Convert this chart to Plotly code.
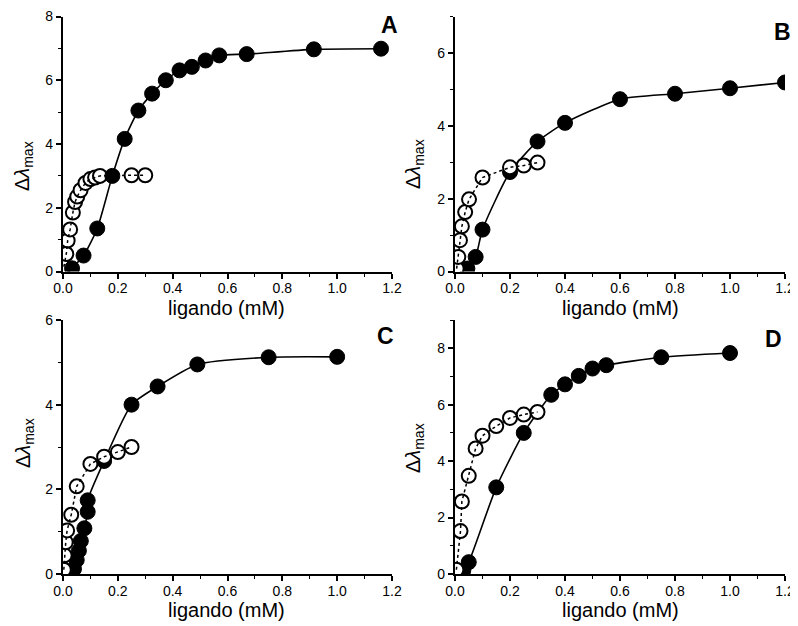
import plotly.graph_objects as go
from plotly.subplots import make_subplots

# panel A
a_fill_x = [0.033, 0.075, 0.125, 0.18, 0.225, 0.275, 0.325, 0.375, 0.425, 0.47, 0.52, 0.57, 0.67, 0.915, 1.16]
a_fill_y = [0.1, 0.5, 1.35, 3.0, 4.16, 5.05, 5.58, 6.0, 6.31, 6.42, 6.62, 6.78, 6.82, 6.97, 6.99]
a_open_x = [0.003, 0.012, 0.017, 0.026, 0.036, 0.044, 0.052, 0.064, 0.082, 0.1, 0.117, 0.135, 0.25, 0.3]
a_open_y = [0.15, 0.55, 0.97, 1.32, 1.85, 2.18, 2.35, 2.55, 2.78, 2.9, 2.95, 3.0, 3.02, 3.02]

# panel B
b_fill_x = [0.045, 0.075, 0.1, 0.2, 0.3, 0.4, 0.6, 0.8, 1.0, 1.2]
b_fill_y = [0.08, 0.4, 1.15, 2.73, 3.57, 4.08, 4.73, 4.88, 5.03, 5.19]
b_open_x = [0.006, 0.012, 0.018, 0.025, 0.037, 0.051, 0.1, 0.2, 0.25, 0.3]
b_open_y = [0.08, 0.4, 0.86, 1.24, 1.63, 1.98, 2.58, 2.86, 2.91, 2.99]

# panel C
c_fill_x = [0.04, 0.05, 0.058, 0.065, 0.078, 0.09, 0.09, 0.15, 0.25, 0.345, 0.49, 0.75, 1.0]
c_fill_y = [0.12, 0.33, 0.55, 0.78, 1.08, 1.47, 1.74, 2.67, 4.0, 4.43, 4.95, 5.12, 5.13]
c_open_x = [0.003, 0.006, 0.01, 0.015, 0.03, 0.05, 0.1, 0.15, 0.2, 0.25]
c_open_y = [0.1, 0.44, 0.75, 1.03, 1.4, 2.07, 2.6, 2.77, 2.88, 3.0]

# panel D
d_fill_x = [0.03, 0.05, 0.15, 0.25, 0.35, 0.4, 0.45, 0.5, 0.55, 0.75, 1.0]
d_fill_y = [0.12, 0.42, 3.07, 5.0, 6.35, 6.72, 7.02, 7.28, 7.4, 7.68, 7.83]
d_open_x = [0.005, 0.02, 0.025, 0.05, 0.075, 0.1, 0.15, 0.2, 0.25, 0.3]
d_open_y = [0.15, 1.52, 2.57, 3.48, 4.45, 4.9, 5.24, 5.53, 5.65, 5.74]

x_title = "ligando (mM)"
y_title = "Δ<i>λ</i><sub>max</sub>"

panels = [
    ("A", 1, 1, a_fill_x, a_fill_y, a_open_x, a_open_y, 8, True),
    ("B", 1, 2, b_fill_x, b_fill_y, b_open_x, b_open_y, 7, False),
    ("C", 2, 1, c_fill_x, c_fill_y, c_open_x, c_open_y, 6, False),
    ("D", 2, 2, d_fill_x, d_fill_y, d_open_x, d_open_y, 9, False),
]

# page body adds an 8px margin, so the figure is drawn 8px in and 16px smaller
W, H, OFF = 790, 618, 8
def px2x(p):
    return (p - OFF) / W
def px2y(p):
    return 1 - (p - OFF) / H

fig = make_subplots(rows=2, cols=2)

def add_fill(r, c, x, y):
    fig.add_trace(go.Scatter(x=x, y=y, mode="lines+markers",
                             line=dict(color="black", width=1.6, shape="spline", smoothing=0.6),
                             marker=dict(size=15, color="black", line=dict(color="black", width=1)),
                             showlegend=False), row=r, col=c)

def add_open(r, c, x, y):
    fig.add_trace(go.Scatter(x=x, y=y, mode="markers",
                             marker=dict(size=14, color="white", line=dict(color="black", width=2)),
                             showlegend=False), row=r, col=c)
    fig.add_trace(go.Scatter(x=x, y=y, mode="lines",
                             line=dict(color="black", width=1.5, dash="dot"),
                             showlegend=False), row=r, col=c)

for name, r, c, fx, fy, ox, oy, ymax, fill_on_top in panels:
    if fill_on_top:
        add_open(r, c, ox, oy)
        add_fill(r, c, fx, fy)
    else:
        add_fill(r, c, fx, fy)
        add_open(r, c, ox, oy)

xdom = [[px2x(63), px2x(392)], [px2x(455), px2x(785)]]
ydom = [[px2y(271.5), px2y(16.5)], [px2y(574), px2y(320)]]
label_pos = {"A": (389, 25), "B": (782, 32), "C": (385, 336), "D": (773, 339)}
xtitle_y = {1: 308, 2: 610}
xtitle_x = {1: 227, 2: 620}
ytitle_y = {"A": 166, "B": 164, "C": 443, "D": 448}
ytitle_x = {1: 24, 2: 414}

FONT = "Liberation Sans, Arial"
axis_font = dict(family=FONT, size=14, color="black")

def note(x, y, text, size, angle=0):
    fig.add_annotation(x=px2x(x), y=px2y(y), xref="paper", yref="paper",
                       xanchor="center", yanchor="middle", text=text,
                       showarrow=False, textangle=angle,
                       font=dict(family=FONT, size=size, color="black"))

for name, r, c, fx, fy, ox, oy, ymax, _ in panels:
    fig.update_xaxes(range=[0, 1.2], domain=xdom[c - 1], dtick=0.2, tickformat=".1f",
                     automargin=False, ticklabelstandoff=-2,
                     showline=True, linecolor="black", linewidth=2.2, mirror=False,
                     ticks="outside", ticklen=5, tickwidth=1.5, tickcolor="black",
                     minor=dict(dtick=0.1, ticks="outside", ticklen=3, tickwidth=1.2, tickcolor="black"),
                     showgrid=False, zeroline=False, tickfont=axis_font,
                     row=r, col=c)
    fig.update_yaxes(range=[0, ymax], domain=ydom[r - 1], dtick=2,
                     automargin=False,
                     showline=True, linecolor="black", linewidth=2.2,
                     ticks="outside", ticklen=5, tickwidth=1.5, tickcolor="black",
                     minor=dict(dtick=1, ticks="outside", ticklen=3, tickwidth=1.2, tickcolor="black"),
                     showgrid=False, zeroline=False, tickfont=axis_font,
                     row=r, col=c)
    lx, ly = label_pos[name]
    note(lx, ly, "<b>%s</b>" % name, 23)
    note(xtitle_x[c], xtitle_y[r], x_title, 20)
    note(ytitle_x[c], ytitle_y[name], y_title, 20, angle=-90)

fig.update_layout(width=W, height=H, margin=dict(l=0, r=0, t=0, b=0),
                  plot_bgcolor="white", paper_bgcolor="white")

fig.write_html("out.html")
